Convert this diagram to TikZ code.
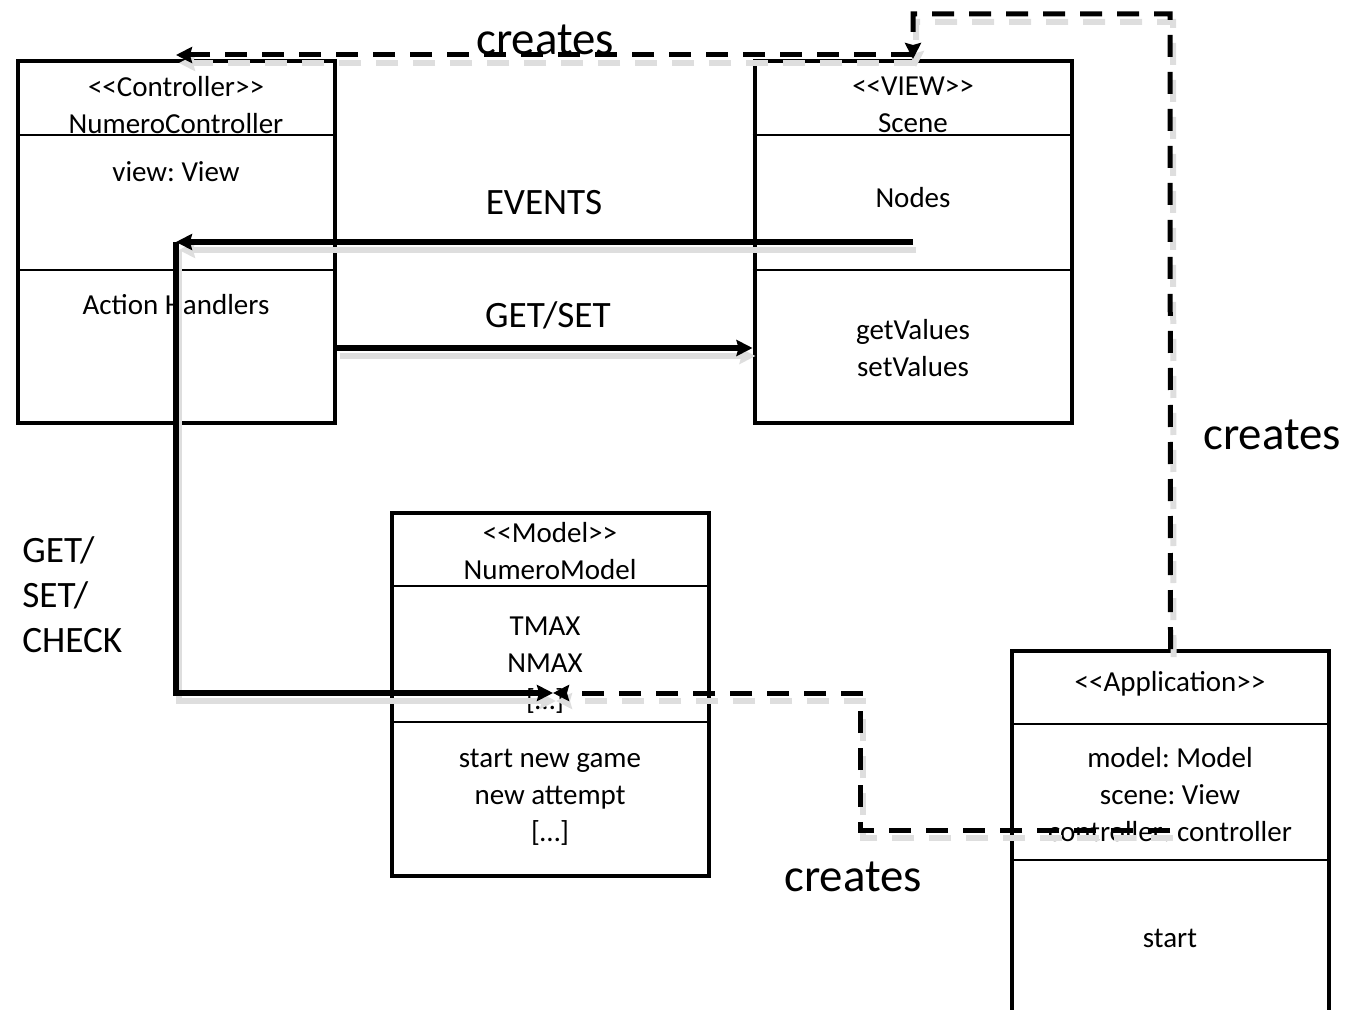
\documentclass[tikz,border=0pt]{standalone}
\usepackage{fontspec}
\setmainfont{Carlito}[Ligatures=TeXOff]
\usetikzlibrary{calc,arrows.meta}
\frenchspacing

\begin{document}
\begin{tikzpicture}[
        x=0.5pt, y=-0.5pt,
        font=\fontsize{14.5}{18.5}\selectfont,
        clase/.style={draw, line width=2pt, minimum width=158.5pt, minimum height=181pt, inner sep=0pt},
        division/.style={line width=1pt},
        txt/.style={align=center, inner sep=0pt},
        sombra/.style={preaction={draw=black!13, line width=3pt, #1, transform canvas={shift={(1.5pt,-4pt)}}}},
        flecha/.style={-{Stealth[length=8pt,width=8pt,inset=1pt]}, line width=2.8pt, sombra={solid}},
        crea/.style={-{Stealth[length=8pt,width=8pt,inset=1pt]}, line width=2.5pt, dash pattern=on 11pt off 7.5pt,
            sombra={dash pattern=on 11pt off 7.5pt}},
        etiqueta/.style={txt, font=\fontsize{18.6}{22.5}\selectfont},
        grande/.style={txt, font=\fontsize{23.4}{28}\selectfont}
    ]
        \useasboundingbox (0,0) rectangle (1349,1010);

        % Clases
        \node[clase] (ctrl) at (176.5,242) {};
        \node[clase] (view) at (913,242) {};
        \node[clase, minimum height=181.5pt] (model) at (550.5,694.5) {};
        \node[clase, minimum height=250pt] (app) at (1170.5,901) {};

        % Divisiones
        \foreach \caja/\a/\b in {ctrl/76/211, view/76/211, model/75/211, app/75/211} {
            \draw[division] ($(\caja.north west)+(0,\a)$) -- ($(\caja.north east)+(0,\a)$);
            \draw[division] ($(\caja.north west)+(0,\b)$) -- ($(\caja.north east)+(0,\b)$);
        }

        % Textos
        \node[txt] (ctrl-nombre) at (176,105) {<<Controller>>\\NumeroController};
        \node[txt] (ctrl-attr) at (176,172) {view: View};
        \node[txt] (ctrl-met) at (176,305) {Action Handlers};

        \node[txt] (view-nombre) at (913,105) {<<VIEW>>\\Scene};
        \node[txt] (view-attr) at (913,198) {Nodes};
        \node[txt] (view-met) at (913,348) {getValues\\setValues};

        \node[txt] (model-nombre) at (550,551) {<<Model>>\\NumeroModel};
        \node[txt] (model-attr) at (545,665) {TMAX\\NMAX\\{[…]}};
        \node[txt] (model-met) at (550,797) {start new game\\new attempt\\{[…]}};

        \node[txt] (app-nombre) at (1170,684) {<<Application>>};
        \node[txt] (app-attr) at (1170,795) {model: Model\\scene: View\\controller: controller};
        \node[txt] (app-met) at (1170,938) {start};

        % Etiquetas
        \node[etiqueta] (lbl-eventos) at (544,203) {EVENTS};
        \node[etiqueta] (lbl-getset) at (548,315) {GET/SET};
        \node[etiqueta, align=left, anchor=west] (lbl-check) at (22,595) {GET/\\SET/\\CHECK};
        \node[grande] (lbl-crea1) at (545,40) {creates};
        \node[grande] (lbl-crea2) at (1272,435) {creates};
        \node[grande] (lbl-crea3) at (853,877) {creates};

        % Puntos de paso
        \coordinate (nodos) at (913,242);
        \coordinate (handler) at (176,242);
        \coordinate (attr) at (553,693);
        \coordinate (esq-a) at (1170,14);
        \coordinate (esq-b) at (913,14);
        \coordinate (crea-v) at (913,55);
        \coordinate (crea-c) at (176,55);
        \coordinate (app-ctrl) at (1170,830);
        \coordinate (esq-c) at (860,830);

        % Flechas
        \draw[flecha] (nodos) -- (handler);
        \draw[flecha] ($(ctrl.east)+(0,106)$) -- ($(view.west)+(0,106)$);
        \draw[flecha] (handler) |- (attr);

        \draw[crea] (app.north) -- (esq-a) -- (esq-b) -- (view.north);
        \draw[crea] (crea-v) -- (crea-c);
        \draw[crea] (app-ctrl) -- (esq-c) |- (attr);

    \end{tikzpicture}
\end{document}
